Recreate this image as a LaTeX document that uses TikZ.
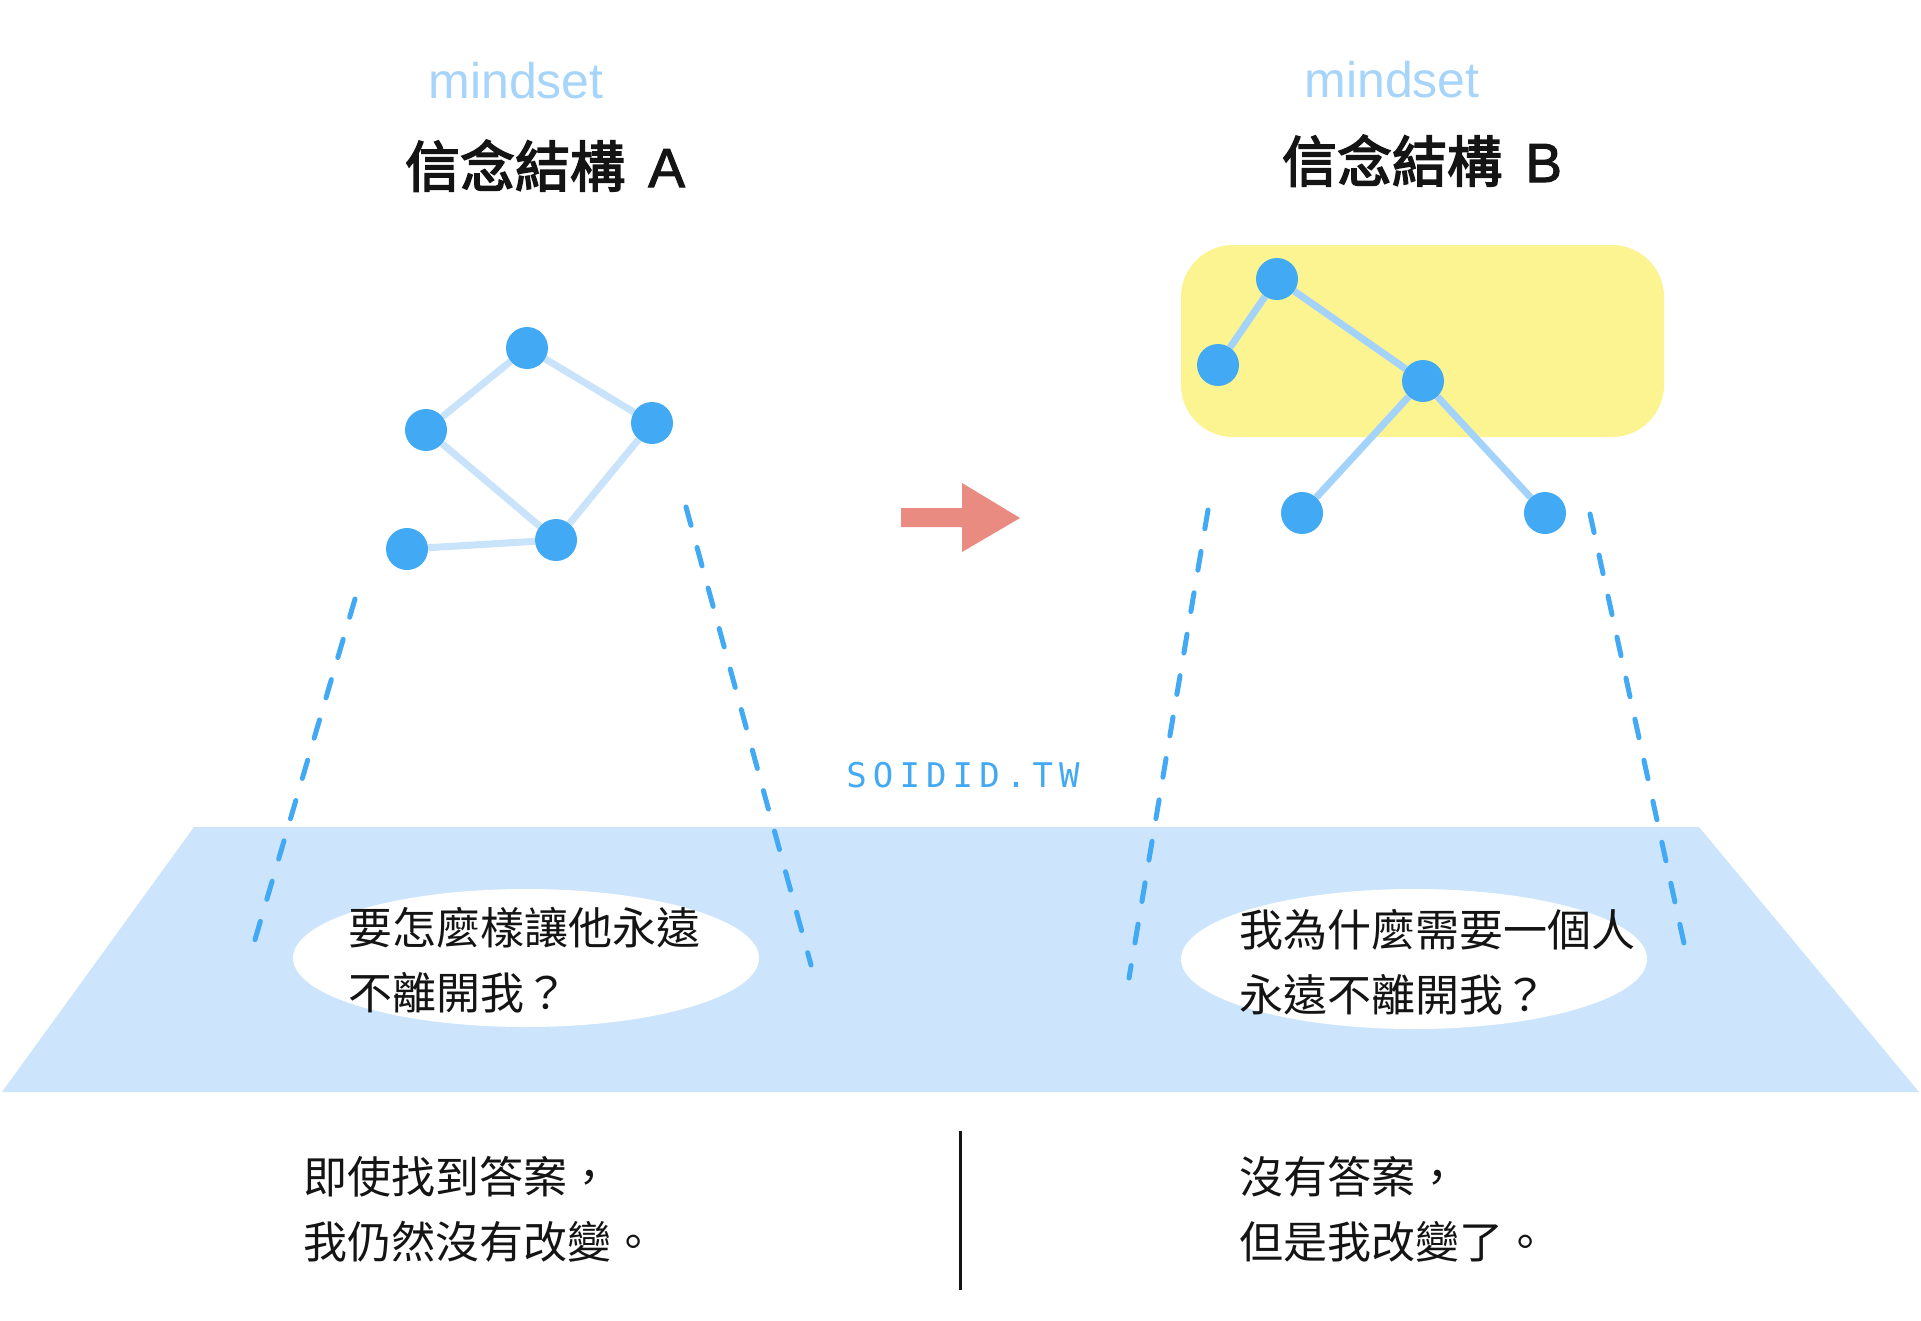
\documentclass[tikz,border=0pt]{standalone}
\usepackage{fontspec}
\setmainfont{Liberation Sans}
\newfontfamily\cjk{Noto Sans CJK TC}
\newfontfamily\cjkmed[FakeBold=3]{Noto Sans CJK TC}
\newfontfamily\latmed[FakeBold=2]{Liberation Sans}
\newfontfamily\monof[LetterSpace=18]{DejaVu Sans Mono}
\definecolor{nodeblue}{HTML}{42A9F5}
\definecolor{edgeA}{HTML}{C9E3FB}
\definecolor{edgeB}{HTML}{A3D2FA}
\definecolor{plane}{HTML}{CCE5FC}
\definecolor{hlyellow}{HTML}{FCF491}
\definecolor{arrowred}{HTML}{EA8B81}
\definecolor{mindblue}{HTML}{A6D4FA}
\definecolor{ink}{HTML}{141414}
\pgfdeclarelayer{bg}
\pgfsetlayers{bg,main}
\begin{document}
\begin{tikzpicture}[x=1pt,y=-1pt,
  dot/.style={circle, fill=nodeblue, minimum size=42pt, inner sep=0pt},
  linkA/.style={draw=edgeA, line width=7pt},
  linkB/.style={draw=edgeB, line width=7pt},
  guide/.style={draw=nodeblue, line width=5pt, line cap=round, dash pattern=on 19pt off 23pt},
  mindlabel/.style={anchor=base, text=mindblue, font=\fontsize{50}{60}\selectfont},
  titlelabel/.style={anchor=base, text=ink, font=\latmed\fontsize{55}{66}\selectfont},
  bodytext/.style={anchor=north west, inner sep=0pt, align=left, text=ink, font=\cjk\fontsize{44}{65}\selectfont}
]
\useasboundingbox (0,0) rectangle (1921,1320);
\begin{pgfonlayer}{bg}
  \fill[white] (0,0) rectangle (1921,1320);
  \fill[hlyellow, rounded corners=52pt] (1181,245) rectangle (1664,437);
\end{pgfonlayer}

% titles
\node[mindlabel] (mA) at (516,98) {mindset};
\node[mindlabel] (mB) at (1392,97) {mindset};
\node[titlelabel] (tA) at (545,187) {{\cjkmed 信念結構}\hspace{8pt} A};
\node[titlelabel] (tB) at (1422,182) {{\cjkmed 信念結構}\hspace{8pt} B};

% plane
\fill[plane] (194,827) -- (1699,827) -- (1919,1092) -- (2,1092) -- cycle;
\fill[white] (526,958) ellipse [x radius=233pt, y radius=69pt];
\fill[white] (1414,959) ellipse [x radius=233pt, y radius=70pt];

% graph A
\node[dot] (a1) at (527,348) {};
\node[dot] (a2) at (426,430) {};
\node[dot] (a3) at (652,423) {};
\node[dot] (a4) at (556,540) {};
\node[dot] (a5) at (407,549) {};
% graph B
\node[dot] (b1) at (1277,279) {};
\node[dot] (b2) at (1218,365) {};
\node[dot] (b3) at (1423,381) {};
\node[dot] (b4) at (1302,513) {};
\node[dot] (b5) at (1545,513) {};
\begin{pgfonlayer}{bg}
  \draw[linkA] (a2) -- (a1);
  \draw[linkA] (a1) -- (a3);
  \draw[linkA] (a2) -- (a4);
  \draw[linkA] (a3) -- (a4);
  \draw[linkA] (a5) -- (a4);
  \draw[linkB] (b1) -- (b2);
  \draw[linkB] (b1) -- (b3);
  \draw[linkB] (b3) -- (b4);
  \draw[linkB] (b3) -- (b5);
\end{pgfonlayer}

% dashed guides
\coordinate (gA1s) at (355,599);
\coordinate (gA1e) at (254,943);
\coordinate (gA2s) at (686,507);
\coordinate (gA2e) at (811,965);
\coordinate (gB1s) at (1208,510);
\coordinate (gB1e) at (1129,978);
\coordinate (gB2s) at (1590,514);
\coordinate (gB2e) at (1685,948);
\draw[guide] (gA1s) -- (gA1e);
\draw[guide] (gA2s) -- (gA2e);
\draw[guide] (gB1s) -- (gB1e);
\draw[guide] (gB2s) -- (gB2e);

% arrow
\fill[arrowred] (901,508) -- (962,508) -- (962,483) -- (1020,518) -- (962,552) -- (962,527) -- (901,527) -- cycle;

% watermark
\node[anchor=base, text=nodeblue, font=\monof\fontsize{34}{40}\selectfont] (wm) at (963,787) {SOIDID.TW};

% questions
\node[bodytext] (qA) at (348,907) {要怎麼樣讓他永遠\\不離開我？};
\node[bodytext] (qB) at (1239,909) {我為什麼需要一個人\\永遠不離開我？};

% conclusions
\node[bodytext] (cA) at (303,1156) {即使找到答案，\\我仍然沒有改變。};
\node[bodytext] (cB) at (1239,1156) {沒有答案，\\但是我改變了。};

% divider
\coordinate (d1) at (960,1131);
\coordinate (d2) at (960,1290);
\draw[line width=3pt, ink] (d1) -- (d2);
\end{tikzpicture}
\end{document}
